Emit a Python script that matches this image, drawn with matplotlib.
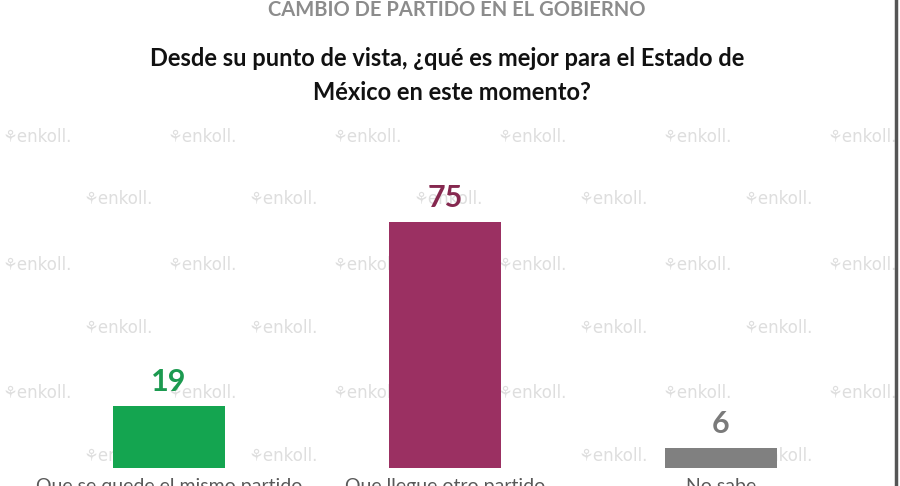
import matplotlib.pyplot as plt
import numpy as np

plt.rcParams['font.family'] = ['Lato', 'DejaVu Sans']

# datos
categorias = ['Que se quede el mismo partido', 'Que llegue otro partido', 'No sabe']
valores = [19, 75, 6]
colores = ['#14a550', '#9b3062', '#808080']
colores_txt = ['#1c9a50', '#85284f', '#7a7a7a']

fig = plt.figure(figsize=(9, 4.86), dpi=100)
ax = fig.add_axes([0, 0, 1, 1])
ax.set_xlim(-0.612, 2.649)
ax.set_ylim(-5.49, 142.7)
ax.axis('off')

# marca de agua (detras de las barras)
filas_y = [137, 199, 265, 328, 393, 456]
for j, py in enumerate(filas_y):
    x0 = 37 if j % 2 == 0 else 118
    for k in range(7):
        px = x0 + 165 * k
        ax.text(px / 900, 1 - py / 486, '\u2698enkoll.', color='#dedede',
                fontsize=12, ha='center', va='center', transform=fig.transFigure,
                zorder=1, family=['DejaVu Sans'])

x = np.arange(len(valores))
ax.bar(x, valores, width=0.406, color=colores, zorder=3)

for i, v in enumerate(valores):
    ax.text(x[i], v + 3, str(v), color=colores_txt[i], fontsize=22,
            fontweight='bold', ha='center', va='bottom', zorder=4)
    ax.text(x[i], -3, categorias[i], color='#595959', fontsize=14,
            ha='center', va='top', zorder=4)

fig.text(457 / 900, 1 - 10 / 486, 'CAMBIO DE PARTIDO EN EL GOBIERNO',
         color='#8c8c8c', fontsize=14.5, fontweight='bold', ha='center', va='center')
fig.text(447 / 900, 1 - 58 / 486, 'Desde su punto de vista, ¿qué es mejor para el Estado de',
         color='#111111', fontsize=17, fontweight='bold', ha='center', va='center')
fig.text(452 / 900, 1 - 92 / 486, 'México en este momento?',
         color='#111111', fontsize=17, fontweight='bold', ha='center', va='center')

# borde derecho
fig.add_artist(plt.Line2D([896 / 900, 896 / 900], [0, 1], color='#555555', lw=2.5))

fig.savefig('out.png', dpi=100)
